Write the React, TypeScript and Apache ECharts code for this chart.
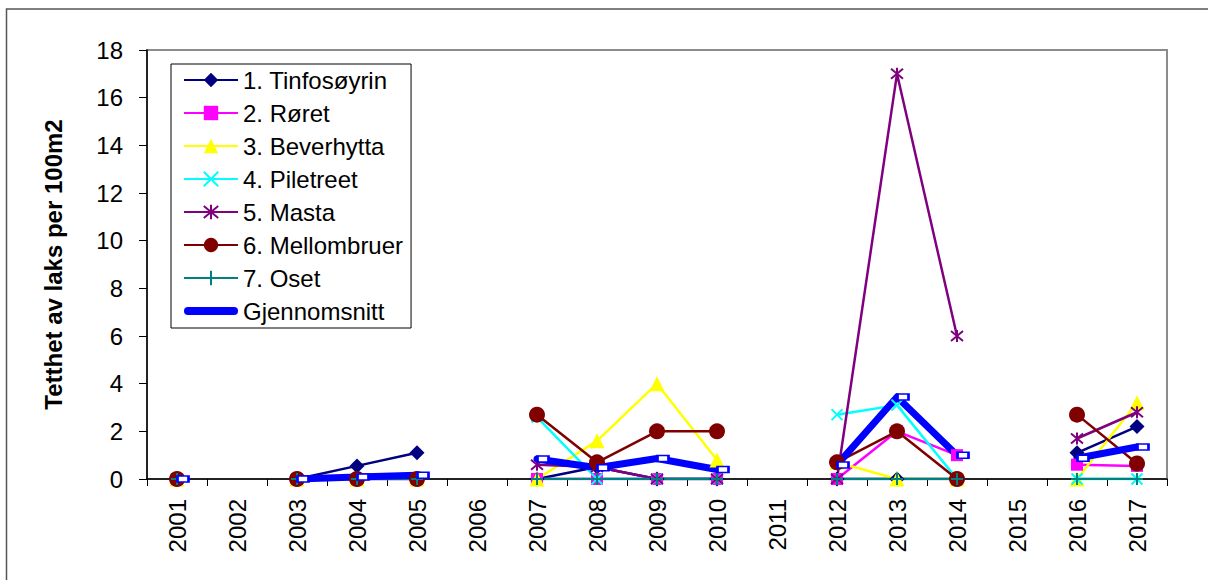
import React, { useEffect, useRef } from "react";
import * as echarts from "echarts";

// Years on the category axis (gaps = years without sampling)
const years = [
  "2001", "2002", "2003", "2004", "2005", "2006", "2007", "2008", "2009",
  "2010", "2011", "2012", "2013", "2014", "2015", "2016", "2017",
];

const tinfosoyrin = [0, null, 0, 0.55, 1.1, null, 0, 0.5, 0, 0, null, 0, 0, 0, null, 1.1, 2.2];
const roret = [0, null, 0, 0, 0, null, 0, 0, 0, 0, null, 0, 2.0, 1.0, null, 0.6, 0.55];
const beverhytta = [0, null, 0, 0, 0, null, 0, 1.6, 4.0, 0.8, null, 0.7, 0, 0, null, 0, 3.2];
const piletreet = [0, null, 0, 0, 0, null, 2.6, 0, 0, 0, null, 2.7, 3.1, 0, null, 0, 0];
const masta = [0, null, 0, 0, 0, null, 0.6, 0.5, 0, 0, null, 0, 17, 6, null, 1.7, 2.8];
const mellombruer = [0, null, 0, 0, 0, null, 2.7, 0.7, 2.0, 2.0, null, 0.7, 2.0, 0, null, 2.7, 0.65];
const oset = [0, null, 0, 0, 0, null, 0, 0, 0, 0, null, 0, 0, 0, null, 0, 0];
const gjennomsnitt = [0, null, 0, 0.08, 0.16, null, 0.84, 0.47, 0.86, 0.4, null, 0.59, 3.44, 1.0, null, 0.87, 1.34];

const yTicks = { min: 0, max: 18, interval: 2 };

const FONT = "'Liberation Sans', Arial, sans-serif";

const CROSS = "path://M0,0 L10,10 M10,0 L0,10";
const STAR = "path://M0,0 L10,10 M10,0 L0,10 M5,-1 L5,11";
const PLUS = "path://M5,0 L5,10 M0,5 L10,5";
const THICK = "path://M4,0 L50,0 A4,4 0 0 1 50,8 L4,8 A4,4 0 0 1 4,0 Z";

function station(
  name: string,
  data: (number | null)[],
  color: string,
  symbol: string,
  symbolSize: number,
  stroked = false
) {
  return {
    name,
    type: "line",
    data,
    connectNulls: false,
    symbol,
    symbolSize,
    showAllSymbol: true,
    lineStyle: { color, width: 2.5 },
    itemStyle: stroked
      ? { color, borderColor: color, borderWidth: 2 }
      : { color, borderWidth: 0 },
    emphasis: { disabled: true },
  };
}

export default function App() {
  const ref = useRef<HTMLDivElement>(null);

  useEffect(() => {
    if (!ref.current) return;
    const chart = echarts.init(ref.current, undefined, { renderer: "svg" });

    const series: any[] = [
      station("1. Tinfosøyrin", tinfosoyrin, "#000080", "diamond", 15),
      station("2. Røret", roret, "#FF00FF", "rect", 12),
      station("3. Beverhytta", beverhytta, "#FFFF00", "triangle", 15),
      station("4. Piletreet", piletreet, "#00FFFF", CROSS, 11, true),
      station("5. Masta", masta, "#800080", STAR, 12, true),
      station("6. Mellombruer", mellombruer, "#800000", "circle", 16),
      station("7. Oset", oset, "#008080", PLUS, 12, true),
      {
        name: "Gjennomsnitt",
        type: "line",
        data: gjennomsnitt,
        connectNulls: false,
        symbol: "rect",
        symbolSize: [11, 6],
        symbolOffset: [6, 0],
        showAllSymbol: true,
        lineStyle: { color: "#0000FF", width: 7, cap: "round", join: "round" },
        itemStyle: { color: "#FFFFFF", borderColor: "#0000FF", borderWidth: 2 },
        emphasis: { disabled: true },
      },
    ];

    chart.setOption({
      animation: false,
      backgroundColor: "#FFFFFF",
      textStyle: { fontFamily: FONT },
      graphic: [
        {
          type: "rect",
          shape: { x: 6.5, y: 9, width: 1240, height: 600 },
          style: { fill: "none", stroke: "#555555", lineWidth: 1.5 },
          silent: true,
          z: -10,
        },
      ],
      grid: {
        left: 147,
        top: 50,
        right: 41,
        bottom: 101,
        containLabel: false,
        outerBoundsMode: "none",
        show: true,
        borderColor: "#8C8C8C",
        borderWidth: 2,
        backgroundColor: "transparent",
      },
      legend: {
        orient: "vertical",
        left: 171,
        top: 64,
        padding: [4, 8, 5, 12],
        itemWidth: 54,
        itemHeight: 18,
        itemGap: 9,
        backgroundColor: "#FFFFFF",
        borderColor: "#000000",
        borderWidth: 1,
        borderRadius: 0,
        selectedMode: false,
        textStyle: { fontSize: 24, color: "#000000", fontFamily: FONT },
        data: [
          "1. Tinfosøyrin",
          "2. Røret",
          "3. Beverhytta",
          "4. Piletreet",
          "5. Masta",
          "6. Mellombruer",
          "7. Oset",
          { name: "Gjennomsnitt", icon: THICK, itemStyle: { color: "#0000FF", borderWidth: 0 } },
        ],
      },
      xAxis: {
        type: "category",
        data: years,
        boundaryGap: true,
        axisLine: { show: true, lineStyle: { color: "#000000", width: 1.5 } },
        axisTick: { show: true, length: 7, interval: 0, lineStyle: { color: "#000000" } },
        axisLabel: {
          interval: 0,
          rotate: 90,
          margin: 20,
          fontSize: 24,
          color: "#000000",
          fontFamily: FONT,
        },
        splitLine: { show: false },
      },
      yAxis: {
        type: "value",
        min: yTicks.min,
        max: yTicks.max,
        interval: yTicks.interval,
        name: "Tetthet av laks per 100m2",
        nameLocation: "middle",
        nameGap: 82,
        nameRotate: 90,
        nameTextStyle: { fontSize: 24, fontWeight: "bold", color: "#000000", fontFamily: FONT },
        axisLine: { show: true, lineStyle: { color: "#000000", width: 1.5 } },
        axisTick: { show: true, length: 8, lineStyle: { color: "#000000" } },
        axisLabel: { margin: 24, fontSize: 24, color: "#000000", fontFamily: FONT },
        splitLine: { show: false },
      },
      series,
    });

    return () => chart.dispose();
  }, []);

  return (
    <div
      ref={ref}
      style={{ position: "fixed", left: 0, top: 0, width: 1208, height: 580 }}
    />
  );
}
